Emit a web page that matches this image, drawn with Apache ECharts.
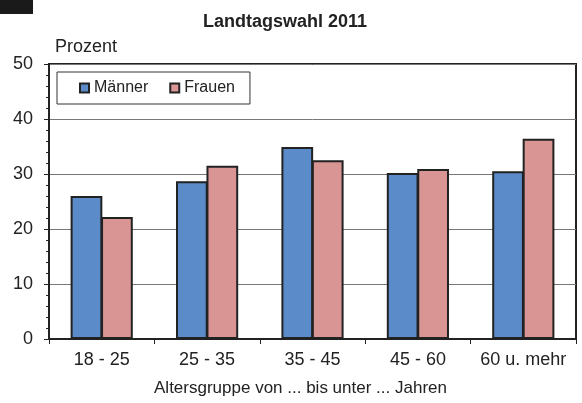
<!DOCTYPE html>
<html>
<head>
<meta charset="utf-8">
<script src="https://cdn.jsdelivr.net/npm/echarts@6/dist/echarts.min.js"></script>
<style>
    html, body { margin: 0; padding: 0; background: #fff; }
    #chart { width: 582px; height: 403px; }
</style>
</head>
<body>
<div id="chart"></div>
<script>
// Data
var categories = ['18 - 25', '25 - 35', '35 - 45', '45 - 60', '60 u. mehr'];
var maenner = [26.0, 28.7, 34.9, 30.2, 30.5];
var frauen = [22.2, 31.5, 32.5, 30.9, 36.4];
var yTicks = [0, 10, 20, 30, 40, 50];

var font = '"Liberation Sans", Arial, sans-serif';

var chart = echarts.init(document.getElementById('chart'));

chart.setOption({
    animation: false,
    textStyle: { fontFamily: font },

    // Title
    title: {
        text: 'Landtagswahl 2011',
        left: 198,
        top: 8,
        textStyle: { fontSize: 18, fontWeight: 'bold', color: '#222', fontFamily: font }
    },

    // Black corner mark + unit label
    graphic: [{
        type: 'rect',
        left: 0, top: 0,
        shape: { width: 33, height: 14 },
        style: { fill: '#1a1a1a' }
    }, {
        type: 'text',
        left: 55, top: 38,
        style: { text: 'Prozent', fontSize: 18, fill: '#222', fontFamily: font }
    }],

    // Grid
    grid: {
        left: 49, right: 6, top: 64, bottom: 64,
        show: true,
        borderColor: '#222',
        borderWidth: 2
    },

    // Legend
    legend: {
        left: 57, top: 72,
        padding: [8, 15, 8, 22],
        borderColor: '#333',
        borderWidth: 1,
        icon: 'rect',
        itemWidth: 9,
        itemHeight: 9,
        itemGap: 21,
        textStyle: { fontSize: 16, color: '#222' },
        data: ['Männer', 'Frauen']
    },

    // Horizontal axis
    xAxis: {
        type: 'category',
        data: categories,
        name: 'Altersgruppe von ... bis unter ... Jahren',
        nameLocation: 'middle',
        nameGap: 41,
        nameTextStyle: { fontSize: 17, color: '#222', padding: [0, 24, 0, 0] },
        axisLine: { lineStyle: { color: '#222', width: 2 } },
        axisTick: { show: true, interval: 0, length: 5, lineStyle: { color: '#222' } },
        axisLabel: { interval: 0, fontSize: 18, color: '#222', margin: 12 }
    },

    // Vertical axis
    yAxis: {
        type: 'value',
        min: yTicks[0],
        max: yTicks[yTicks.length - 1],
        interval: 10,
        axisLine: { show: true, lineStyle: { color: '#222', width: 2 } },
        axisTick: { show: true, length: 5, lineStyle: { color: '#222' } },
        minorTick: { show: true, splitNumber: 5, length: 3, lineStyle: { color: '#222' } },
        axisLabel: { fontSize: 18, color: '#222', margin: 16 },
        splitLine: { lineStyle: { color: '#777', width: 1 } }
    },

    // Series
    series: [{
        name: 'Männer',
        type: 'bar',
        data: maenner,
        barGap: '-4%',
        barCategoryGap: '41%',
        itemStyle: { color: '#5b8bc9', borderColor: '#222', borderWidth: 2 }
    }, {
        name: 'Frauen',
        type: 'bar',
        data: frauen,
        barGap: '-4%',
        barCategoryGap: '41%',
        itemStyle: { color: '#d99594', borderColor: '#222', borderWidth: 2 }
    }]
});
</script>
</body>
</html>
